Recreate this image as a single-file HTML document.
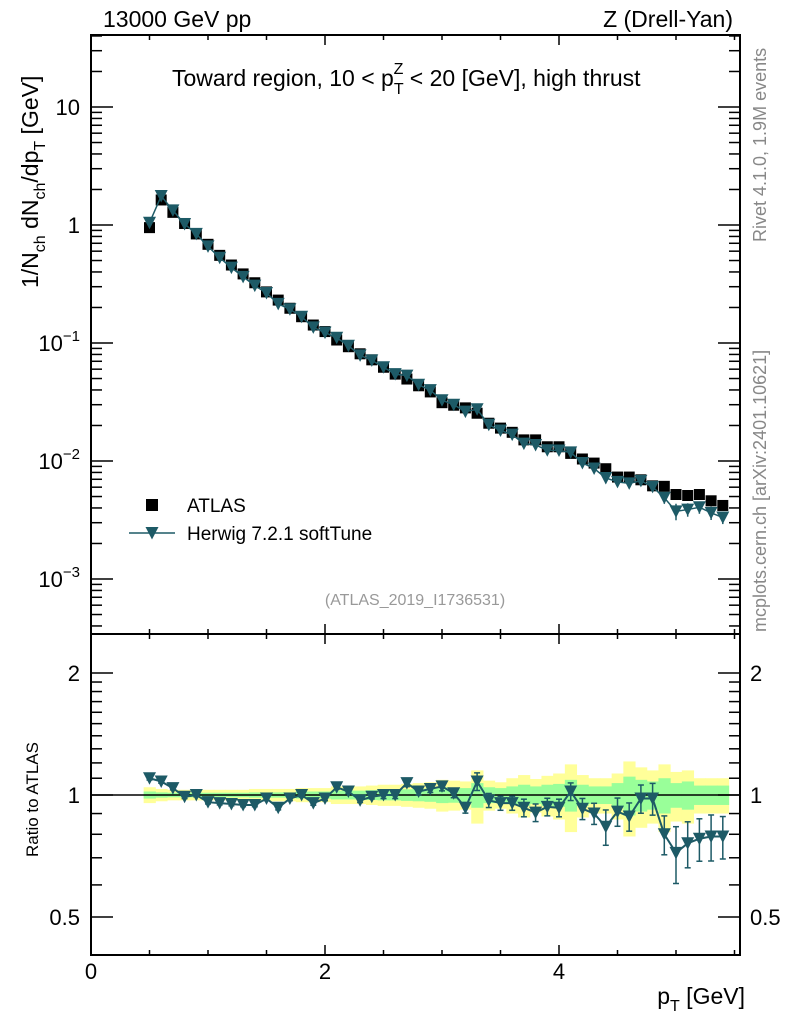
<!DOCTYPE html>
<html><head><meta charset="utf-8"><style>
html,body{margin:0;padding:0;background:#fff}
svg{display:block;font-family:"Liberation Sans",Arial,sans-serif}
</style></head><body>
<svg id="chart" width="786" height="1024" viewBox="0 0 786 1024"></svg>
<script>
const xCenters=[0.5,0.6,0.7,0.8,0.9,1.0,1.1,1.2,1.3,1.4,1.5,1.6,1.7,1.8,1.9,2.0,2.1,2.2,2.3,2.4,2.5,2.6,2.7,2.8,2.9,3.0,3.1,3.2,3.3,3.4,3.5,3.6,3.7,3.8,3.9,4.0,4.1,4.2,4.3,4.4,4.5,4.6,4.7,4.8,4.9,5.0,5.1,5.2,5.3,5.4];
const atlasVals=[0.95,1.63,1.28,1.03,0.84,0.686,0.553,0.458,0.385,0.324,0.271,0.231,0.197,0.167,0.142,0.125,0.106,0.093,0.081,0.072,0.0623,0.0545,0.0495,0.0434,0.0385,0.0312,0.0297,0.0282,0.0254,0.0209,0.019,0.0175,0.0151,0.0151,0.0132,0.0132,0.0116,0.0104,0.0096,0.0086,0.00731,0.00731,0.00693,0.00616,0.0061,0.0052,0.0051,0.0052,0.0046,0.0042];
const ratioVals=[1.10,1.08,1.04,0.99,1.0,0.96,0.955,0.95,0.945,0.945,0.98,0.93,0.98,1.0,0.955,0.98,1.045,1.02,0.97,0.99,1.0,1.0,1.07,1.02,1.035,1.05,1.01,0.93,1.08,0.97,0.955,0.955,0.93,0.905,0.935,0.93,1.02,0.925,0.9,0.835,0.91,0.885,0.98,0.98,0.80,0.72,0.76,0.78,0.79,0.79];
const totErr=[0.045,0.035,0.03,0.03,0.03,0.03,0.03,0.03,0.03,0.035,0.035,0.035,0.035,0.04,0.04,0.04,0.05,0.05,0.05,0.055,0.06,0.06,0.065,0.07,0.075,0.09,0.085,0.08,0.15,0.085,0.075,0.1,0.12,0.095,0.115,0.13,0.19,0.12,0.1,0.1,0.13,0.21,0.17,0.15,0.19,0.14,0.15,0.1,0.1,0.1];
const statErr=[0.02,0.015,0.013,0.013,0.013,0.013,0.013,0.013,0.013,0.015,0.015,0.015,0.015,0.02,0.02,0.02,0.025,0.025,0.025,0.028,0.03,0.03,0.033,0.035,0.038,0.045,0.043,0.04,0.07,0.045,0.04,0.05,0.06,0.05,0.06,0.065,0.09,0.06,0.05,0.05,0.07,0.11,0.09,0.08,0.1,0.07,0.08,0.055,0.055,0.055];
const mcErr=[0.01,0.01,0.01,0.01,0.01,0.01,0.01,0.01,0.01,0.01,0.012,0.012,0.012,0.012,0.012,0.012,0.012,0.012,0.012,0.012,0.02,0.02,0.02,0.02,0.02,0.025,0.025,0.03,0.05,0.04,0.04,0.04,0.05,0.05,0.05,0.05,0.05,0.06,0.06,0.1,0.08,0.08,0.08,0.09,0.11,0.16,0.13,0.12,0.13,0.12];
const xTickLabels=["0","2","4"];
const yTickExps=[1,0,-1,-2,-3];
const rTickLabels=["0.5","1","2"];

const NS="http://www.w3.org/2000/svg";
const svg=document.getElementById('chart');
function el(t,a,p){const e=document.createElementNS(NS,t);for(const k in a)e.setAttribute(k,a[k]);(p||svg).appendChild(e);return e;}
const L=91,R=740,T=35,MB=634,RB=955;
const X=v=>L+v*117;
const Y=v=>225-Math.log10(v)*118;
const RY=v=>795-Math.log2(v)*122;
const C="#1d5a66";
const bw=117*0.1;

const gBands=el('g',{},svg);


xCenters.forEach((x,i)=>{
  const y1=RY(1+totErr[i]),y2=RY(1-totErr[i]);
  const r=el('rect',{x:X(x)-bw/2,y:y1,width:bw+0.5,height:y2-y1,fill:'#ffff99'},gBands);
  
  
});
xCenters.forEach((x,i)=>{
  const y1=RY(1+statErr[i]),y2=RY(1-statErr[i]);
  const r=el('rect',{x:X(x)-bw/2,y:y1,width:bw+0.5,height:y2-y1,fill:'#99ff99'},gBands);
  
  
});
el('line',{x1:L,x2:R,y1:RY(1),y2:RY(1),stroke:'#000','stroke-width':1.5});

const f1=el('rect',{x:L,y:T,width:R-L,height:MB-T,fill:'none',stroke:'#000','stroke-width':2});

const f2=el('rect',{x:L,y:MB,width:R-L,height:RB-MB,fill:'none',stroke:'#000','stroke-width':2});


for(let v=0;v<=5.5;v+=0.5){
  const major=Math.abs(v%2)<1e-6, len=major?10:5, x=X(v);
  [T,MB].forEach(y=>{el('line',{x1:x,x2:x,y1:y,y2:y+len,stroke:'#000','stroke-width':1.5});});
  [MB,RB].forEach(y=>{el('line',{x1:x,x2:x,y1:y,y2:y-len,stroke:'#000','stroke-width':1.5});});
}
xTickLabels.forEach(s=>{
  const t=el('text',{x:X(+s),y:979,'font-size':22,'text-anchor':'middle'});t.textContent=s;
  
});
for(let e=-4;e<=1;e++){
  for(let m=1;m<10;m++){
    const v=m*Math.pow(10,e),y=Y(v);
    if(y<T||y>MB)continue;
    const len=m==1?22:11;
    el('line',{x1:L,x2:L+len,y1:y,y2:y,stroke:'#000','stroke-width':1.5});
    el('line',{x1:R,x2:R-len,y1:y,y2:y,stroke:'#000','stroke-width':1.5});
  }
}
yTickExps.forEach(e=>{
  const y=Y(Math.pow(10,e))+8;
  const t=el('text',{x:80,y:y,'font-size':22,'text-anchor':'end'});
  
  if(e==1)t.textContent='10';else if(e==0)t.textContent='1';
  else{t.textContent='10';const s=el('tspan',{dy:-10,'font-size':15},t);s.textContent='\u2212'+(-e);}
});
[0.5,0.6,0.7,0.8,0.9,1,1.1,1.2,1.3,1.4,1.5,1.6,1.7,1.8,1.9,2].forEach(v=>{
  const y=RY(v),major=(v==0.5||v==1||v==2),len=major?22:11;
  el('line',{x1:L,x2:L+len,y1:y,y2:y,stroke:'#000','stroke-width':1.5});
  el('line',{x1:R,x2:R-len,y1:y,y2:y,stroke:'#000','stroke-width':1.5});
});
rTickLabels.forEach(s=>{
  const y=RY(+s)+8;
  const a=el('text',{x:80,y:y,'font-size':22,'text-anchor':'end'});a.textContent=s;
  
  const b=el('text',{x:750,y:y,'font-size':22}); b.textContent=s;
  
});

function tri(x,y,g){return el('polygon',{points:`${x-6.5},${y-6} ${x+6.5},${y-6} ${x},${y+6.5}`,fill:C},g);}

const gA=el('g',{});
xCenters.forEach((x,i)=>{
  const r=el('rect',{x:X(x)-5.5,y:Y(atlasVals[i])-5.5,width:11,height:11,fill:'#000'},gA);
  
});
const gM=el('g',{});
const mcVals=atlasVals.map((v,i)=>v*ratioVals[i]);
el('polyline',{points:xCenters.map((x,i)=>X(x)+','+Y(mcVals[i])).join(' '),fill:'none',stroke:C,'stroke-width':1.5},gM);
xCenters.forEach((x,i)=>{
  const y1=Y(mcVals[i]*(1+mcErr[i])),y2=Y(mcVals[i]*(1-mcErr[i]));
  el('line',{x1:X(x),x2:X(x),y1:y1,y2:y2,stroke:C,'stroke-width':1.5},gM);
  const p=tri(X(x),Y(mcVals[i]),gM);
  
});
const gR=el('g',{});
el('polyline',{points:xCenters.map((x,i)=>X(x)+','+RY(ratioVals[i])).join(' '),fill:'none',stroke:C,'stroke-width':2},gR);
xCenters.forEach((x,i)=>{
  const y1=RY(ratioVals[i]*(1+mcErr[i])),y2=RY(ratioVals[i]*(1-mcErr[i]));
  el('line',{x1:X(x),x2:X(x),y1:y1,y2:y2,stroke:C,'stroke-width':1.5},gR);
  el('line',{x1:X(x)-3,x2:X(x)+3,y1:y1,y2:y1,stroke:C,'stroke-width':1.5},gR);
  el('line',{x1:X(x)-3,x2:X(x)+3,y1:y2,y2:y2,stroke:C,'stroke-width':1.5},gR);
  const p=tri(X(x),RY(ratioVals[i]),gR);
  
});

const lg=el('g',{});
el('rect',{x:146,y:499,width:12,height:12,fill:'#000'},lg);
const lt1=el('text',{x:187,y:512,'font-size':19},lg);lt1.textContent='ATLAS';

el('line',{x1:129,x2:175,y1:533,y2:533,stroke:C,'stroke-width':1.5},lg);
tri(152,533,lg);
const lt2=el('text',{x:187,y:540,'font-size':19},lg);lt2.textContent='Herwig 7.2.1 softTune';

</script>
<div style="position:absolute;left:0;top:0;width:786px;height:1024px;pointer-events:none">
<svg width="786" height="1024" style="font-family:'Liberation Sans',Arial,sans-serif">
<text x="103" y="27" font-size="23">13000 GeV pp</text>
<text x="733" y="27" font-size="23" text-anchor="end">Z (Drell-Yan)</text>
<text x="172" y="86" font-size="23">Toward region, 10 &lt; p<tspan font-size="16" dy="8">T</tspan><tspan font-size="16" dx="-10" dy="-20">Z</tspan><tspan dy="12"> &lt; 20 [GeV], high thrust</tspan></text>
<text x="415" y="605" font-size="16" fill="#999" text-anchor="middle">(ATLAS_2019_I1736531)</text>
<text transform="translate(766,242) rotate(-90)" font-size="18" fill="#888">Rivet 4.1.0, 1.9M events</text>
<text transform="translate(766,632) rotate(-90)" font-size="18" fill="#888">mcplots.cern.ch [arXiv:2401.10621]</text>
<text transform="translate(38,288) rotate(-90)" font-size="23">1/N<tspan font-size="16" dy="7">ch</tspan><tspan dy="-7"> dN</tspan><tspan font-size="16" dy="7">ch</tspan><tspan dy="-7">/dp</tspan><tspan font-size="16" dy="7">T</tspan><tspan dy="-7"> [GeV]</tspan></text>
<text transform="translate(38,857) rotate(-90)" font-size="17">Ratio to ATLAS</text>
<text x="745" y="1004" font-size="23" text-anchor="end">p<tspan font-size="16" dy="7">T</tspan><tspan dy="-7"> [GeV]</tspan></text>
</svg></div>
</body></html>
